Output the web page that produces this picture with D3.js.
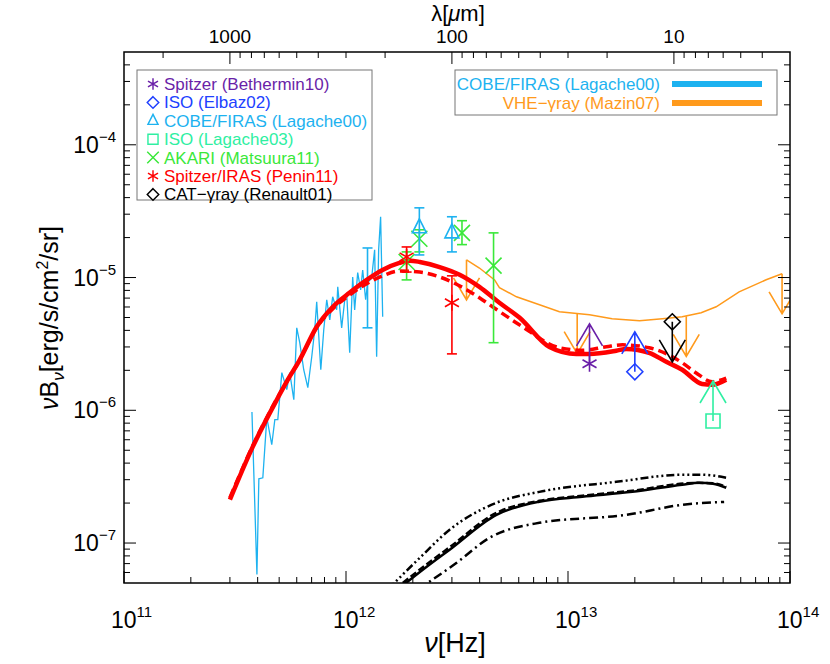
<!DOCTYPE html>
<html>
<head>
<meta charset="utf-8">
<script src="https://cdn.jsdelivr.net/npm/d3@7"></script>
<style>
body { margin: 0; background: #fff; }
text { font-family: "Liberation Sans", Arial, sans-serif; }
</style>
</head>
<body>
<svg width="830" height="664"></svg>
<script>
// ---- data (nu in Hz, nuB_nu in erg/s/cm2/sr) ----
var firasSpectrum = [
  [3.77e11, 9.7e-7], [3.97e11, 5.8e-8], [4.05e11, 3.05e-7], [4.22e11, 3.1e-7], [4.40e11, 8.8e-7],
  [4.63e11, 5.5e-7], [4.78e11, 8.5e-7], [4.93e11, 8.5e-7], [5.14e11, 1.92e-6], [5.41e11, 1.43e-6],
  [5.58e11, 1.92e-6], [5.82e11, 1.2e-6], [6.00e11, 4.18e-6], [6.19e11, 3.23e-6], [6.45e11, 2.02e-6],
  [6.73e11, 1.48e-6], [7.01e11, 2.53e-6], [7.23e11, 4.04e-6], [7.38e11, 6.57e-6], [7.70e11, 2.02e-6],
  [7.94e11, 4.04e-6], [8.19e11, 6.8e-6], [8.45e11, 4.8e-6], [8.71e11, 7.16e-6], [9.08e11, 5.71e-6],
  [9.18e11, 8.51e-6], [9.56e11, 4.18e-6], [9.87e11, 6.8e-6], [1.007e12, 7.67e-6], [1.039e12, 2.71e-6],
  [1.072e12, 1.01e-5], [1.094e12, 5.71e-6], [1.129e12, 1.09e-5], [1.164e12, 8.08e-6], [1.189e12, 1.14e-5],
  [1.226e12, 6.8e-6], [1.252e12, 9.13e-6], [1.305e12, 9.96e-6], [1.346e12, 1.62e-5], [1.374e12, 2.53e-6],
  [1.403e12, 1.62e-5], [1.432e12, 2.87e-5], [1.463e12, 5.06e-6]
];
var firasErr = [{nu: 1.25e12, lo: 4.18e-6, hi: 1.67e-5}];

var modelSolid = [
  [3.0e11, 2.12e-7], [3.8e11, 5.3e-7], [4.88e11, 1.2e-6], [5.47e11, 1.7e-6], [6.19e11, 2.4e-6],
  [7.38e11, 4.26e-6], [8.71e11, 6.0e-6], [1.04e12, 7.7e-6], [1.24e12, 9.6e-6], [1.46e12, 1.14e-5],
  [1.74e12, 1.29e-5], [1.94e12, 1.34e-5], [2.15e12, 1.31e-5], [2.64e12, 1.2e-5], [3.25e12, 1.05e-5],
  [3.99e12, 8.5e-6], [4.91e12, 6.45e-6], [6.04e12, 5.0e-6], [8.25e12, 3.0e-6], [1.09e13, 2.66e-6],
  [1.25e13, 2.66e-6], [1.65e13, 2.81e-6], [1.83e13, 2.9e-6], [2.32e13, 2.71e-6], [2.77e13, 2.32e-6],
  [3.27e13, 2.02e-6], [4.02e13, 1.58e-6], [4.46e13, 1.56e-6], [5.16e13, 1.7e-6]
];
var modelDashed = [
  [3.0e11, 2.2e-7], [3.8e11, 5.4e-7], [4.88e11, 1.22e-6], [6.19e11, 2.4e-6], [7.38e11, 4.2e-6],
  [8.71e11, 5.8e-6], [1.04e12, 7.4e-6], [1.24e12, 9.0e-6], [1.46e12, 1.03e-5], [1.74e12, 1.12e-5],
  [2.15e12, 1.10e-5], [2.64e12, 1.01e-5], [3.49e12, 8.1e-6], [3.99e12, 7.04e-6], [4.57e12, 6.03e-6],
  [6.04e12, 4.41e-6], [9.15e12, 2.96e-6], [1.16e13, 2.83e-6], [1.49e13, 3.01e-6], [1.76e13, 3.11e-6],
  [2.32e13, 2.96e-6], [3.27e13, 2.28e-6], [3.78e13, 1.91e-6], [4.46e13, 1.64e-6], [5.16e13, 1.75e-6]
];

var blackSolid = [
  [1.72e12, 4.5e-8], [2.31e12, 6.62e-8], [2.93e12, 8.9e-8], [4.76e12, 1.63e-7], [7.43e12, 2.05e-7],
  [1.16e13, 2.23e-7], [1.95e13, 2.43e-7], [3.27e13, 2.75e-7], [3.9e13, 2.84e-7], [4.5e13, 2.8e-7], [5.16e13, 2.61e-7]
];
var blackDashed = [
  [1.66e12, 4.5e-8], [2.28e12, 6.8e-8], [2.93e12, 9.3e-8], [4.76e12, 1.69e-7], [7.43e12, 2.08e-7],
  [1.16e13, 2.27e-7], [1.95e13, 2.48e-7], [3.78e13, 2.84e-7], [4.5e13, 2.82e-7], [5.16e13, 2.65e-7]
];
var blackLow = [
  [2.12e12, 4.5e-8], [3.15e12, 7.1e-8], [4.43e12, 1.095e-7], [7.43e12, 1.42e-7], [1.83e13, 1.63e-7],
  [3.27e13, 1.94e-7], [5.05e13, 2.04e-7]
];
var blackHigh = [
  [1.55e12, 4.5e-8], [2.15e12, 7.74e-8], [2.93e12, 1.26e-7], [4.76e12, 2.01e-7], [7.43e12, 2.43e-7],
  [1.65e13, 2.89e-7], [3.27e13, 3.27e-7], [4.02e13, 3.27e-7], [5.16e13, 3.1e-7]
];

var mazin07 = [
  [3.49e12, 1.36e-5], [3.99e12, 1.18e-5], [4.67e12, 9.6e-6], [4.91e12, 8.4e-6], [5.86e12, 7.16e-6],
  [7.44e12, 6.23e-6], [9.15e12, 5.52e-6], [1.25e13, 5.24e-6], [1.58e13, 4.89e-6], [2.1e13, 4.72e-6],
  [2.66e13, 4.89e-6], [3.27e13, 5.06e-6], [3.98e13, 5.43e-6], [4.65e13, 6.02e-6], [5.9e13, 7.81e-6],
  [7.81e13, 9.62e-6], [9.21e13, 1.067e-5]
];
var mazin07Limits = [[3.49e12, 1.36e-5], [1.1e13, 5.35e-6], [3.41e13, 5.1e-6], [9.21e13, 1.067e-5]];

var lagache00 = [
  {nu: 2.14e12, v: 2.37e-5, lo: 1.48e-5, hi: 3.35e-5},
  {nu: 3.0e12, v: 2.17e-5, lo: 1.56e-5, hi: 2.87e-5}
];
var matsuura11 = [
  {nu: 1.875e12, v: 1.31e-5, lo: 9.6e-6, hi: 1.56e-5},
  {nu: 2.14e12, v: 1.96e-5, lo: 1.56e-5, hi: 2.29e-5},
  {nu: 3.33e12, v: 2.17e-5, lo: 1.77e-5, hi: 2.68e-5},
  {nu: 4.62e12, v: 1.23e-5, lo: 3.23e-6, hi: 2.17e-5}
];
var penin11 = [
  {nu: 1.875e12, v: 1.43e-5, lo: 1.1e-5, hi: 1.7e-5},
  {nu: 3.0e12, v: 6.45e-6, lo: 2.66e-6, hi: 1.03e-5}
];
var bethermin10 = [{nu: 1.25e13, v: 2.24e-6}];   // lower limits
var elbaz02 = [{nu: 2.0e13, v: 1.95e-6}];
var lagache03 = [{nu: 4.5e13, v: 8.3e-7}];
var renault01 = [{nu: 2.95e13, v: 4.64e-6}];     // upper limit

var xMajor = [1e11, 1e12, 1e13, 1e14];
var yMajor = [1e-7, 1e-6, 1e-5, 1e-4];
var lambdaMajor = [1000, 100, 10];

var purple = "#6a1fa8", blue = "#2040ff", cyan = "#1db2f0", aqua = "#2fefa2",
    green = "#3ae83a", red = "#ff0000", orange = "#ff9a1c";

var legendLeft = [
  {label: "Spitzer (Bethermin10)", color: purple, sym: "asterisk"},
  {label: "ISO (Elbaz02)", color: blue, sym: "diamond"},
  {label: "COBE/FIRAS (Lagache00)", color: cyan, sym: "triangle"},
  {label: "ISO (Lagache03)", color: aqua, sym: "square"},
  {label: "AKARI (Matsuura11)", color: green, sym: "cross"},
  {label: "Spitzer/IRAS (Penin11)", color: red, sym: "asterisk"},
  {label: "CAT\u2212\u03b3ray (Renault01)", color: "#000", sym: "diamond"}
];
var legendRight = [
  {label: "COBE/FIRAS (Lagache00)", color: cyan},
  {label: "VHE\u2212\u03b3ray (Mazin07)", color: orange}
];

// ---- setup ----
var svg = d3.select("svg");
var pLeft = 124, pRight = 790, pTop = 52, pBottom = 583;
var x = d3.scaleLog().domain([1e11, 1e14]).range([pLeft, pRight]);
var y = d3.scaleLog().domain([5e-8, 5e-4]).range([pBottom, pTop]);
var cLight = 3e14; // micron * Hz

var symbols = {
  asterisk: "M0,-8L0,8M-7,-4L7,4M-7,4L7,-4",
  diamond: "M0,-8L8,0L0,8L-8,0Z",
  triangle: "M0,-9L7,5L-7,5Z",
  square: "M-7,-7L7,-7L7,7L-7,7Z",
  cross: "M-8,-8L8,8M-8,8L8,-8"
};

svg.append("clipPath").attr("id", "clip").append("rect")
  .attr("x", pLeft).attr("y", pTop).attr("width", pRight - pLeft).attr("height", pBottom - pTop);

var plot = svg.append("g").attr("clip-path", "url(#clip)");

var line = d3.line().x(function(d) { return x(d[0]); }).y(function(d) { return y(d[1]); });
var smooth = d3.line().curve(d3.curveMonotoneX).x(function(d) { return x(d[0]); }).y(function(d) { return y(d[1]); });

// black model curves
plot.append("path").attr("d", smooth(blackHigh)).attr("fill", "none").attr("stroke", "#000")
  .attr("stroke-width", 2.5).attr("stroke-dasharray", "8,3,2,3,2,3,2,3");
plot.append("path").attr("d", smooth(blackLow)).attr("fill", "none").attr("stroke", "#000")
  .attr("stroke-width", 2.5).attr("stroke-dasharray", "9,4,2,4");
plot.append("path").attr("d", smooth(blackDashed)).attr("fill", "none").attr("stroke", "#000")
  .attr("stroke-width", 2.5).attr("stroke-dasharray", "7,3");
plot.append("path").attr("d", smooth(blackSolid)).attr("fill", "none").attr("stroke", "#000")
  .attr("stroke-width", 2.5);

// FIRAS spectrum
plot.append("path").attr("d", line(firasSpectrum)).attr("fill", "none").attr("stroke", cyan).attr("stroke-width", 1.3);
drawErrors(plot, firasErr, cyan);

// Mazin07 upper limit curve
plot.append("path").attr("d", line(mazin07)).attr("fill", "none").attr("stroke", orange).attr("stroke-width", 1.5);
mazin07Limits.forEach(function(d) { drawArrow(plot, x(d[0]), y(d[1]), 1, orange); });

// red model curves
plot.append("path").attr("d", smooth(modelDashed)).attr("fill", "none").attr("stroke", red)
  .attr("stroke-width", 3.5).attr("stroke-dasharray", "9,5");
plot.append("path").attr("d", smooth(modelSolid)).attr("fill", "none").attr("stroke", red)
  .attr("stroke-width", 4.5).attr("stroke-linejoin", "round");

// data points
drawErrors(plot, matsuura11, green);
drawMarkers(plot, matsuura11, green, "cross");
drawErrors(plot, lagache00, cyan);
drawMarkers(plot, lagache00, cyan, "triangle");
drawErrors(plot, penin11, red);
drawMarkers(plot, penin11, red, "asterisk");

bethermin10.forEach(function(d) { drawArrow(plot, x(d.nu), y(d.v), -1, purple); });
drawMarkers(plot, bethermin10, purple, "asterisk");
elbaz02.forEach(function(d) { drawArrow(plot, x(d.nu), y(d.v), -1, blue); });
drawMarkers(plot, elbaz02, blue, "diamond");
lagache03.forEach(function(d) { drawArrow(plot, x(d.nu), y(d.v), -1, aqua); });
drawMarkers(plot, lagache03, aqua, "square");
renault01.forEach(function(d) { drawArrow(plot, x(d.nu), y(d.v), 1, "#000"); });
drawMarkers(plot, renault01, "#000", "diamond");

// ---- axes ----
var axes = svg.append("g").attr("stroke", "#000");
axes.append("rect").attr("x", pLeft).attr("y", pTop).attr("width", pRight - pLeft).attr("height", pBottom - pTop)
  .attr("fill", "none").attr("stroke-width", 1.5);

var xTicks = [];
for (var e = 11; e < 14; e++) for (var m = 2; m <= 9; m++) xTicks.push({v: m * Math.pow(10, e), major: false});
xMajor.forEach(function(v) { xTicks.push({v: v, major: true}); });
axes.selectAll("line.xt").data(xTicks).enter().append("line")
  .attr("x1", function(d) { return x(d.v); }).attr("x2", function(d) { return x(d.v); })
  .attr("y1", pBottom).attr("y2", function(d) { return pBottom - (d.major ? 12 : 6); });

var lTicks = [];
[1, 10, 100, 1000].forEach(function(dec) {
  for (var m = 1; m <= 9; m++) {
    var lam = m * dec;
    if (lam > 3 && lam < 3000) lTicks.push({v: cLight / lam, major: m === 1});
  }
});
axes.selectAll("line.lt").data(lTicks).enter().append("line")
  .attr("x1", function(d) { return x(d.v); }).attr("x2", function(d) { return x(d.v); })
  .attr("y1", pTop).attr("y2", function(d) { return pTop + (d.major ? 12 : 6); });

var yTicks = [];
for (var e2 = -8; e2 < -3; e2++) for (var m2 = 1; m2 <= 9; m2++) {
  var v = m2 * Math.pow(10, e2);
  if (v > 5e-8 && v < 5e-4) yTicks.push({v: v, major: m2 === 1});
}
axes.selectAll("line.yl").data(yTicks).enter().append("line")
  .attr("x1", pLeft).attr("x2", function(d) { return pLeft + (d.major ? 12 : 6); })
  .attr("y1", function(d) { return y(d.v); }).attr("y2", function(d) { return y(d.v); });
axes.selectAll("line.yr").data(yTicks).enter().append("line")
  .attr("x1", pRight).attr("x2", function(d) { return pRight - (d.major ? 12 : 6); })
  .attr("y1", function(d) { return y(d.v); }).attr("y2", function(d) { return y(d.v); });

// tick labels
var xl = svg.selectAll("text.xl").data(xMajor).enter().append("text")
  .attr("x", function(d) { return x(d) - 13; }).attr("y", 628)
  .attr("font-size", 23);
xl.append("tspan").text("10");
xl.append("tspan").attr("dy", -11).attr("font-size", 15).text(function(d) { return Math.round(Math.log10(d)); });

var yl = svg.selectAll("text.yl").data(yMajor).enter().append("text")
  .attr("x", 116).attr("y", function(d) { return y(d) + 8; })
  .attr("text-anchor", "end").attr("font-size", 23);
yl.append("tspan").text("10");
yl.append("tspan").attr("dy", -11).attr("font-size", 15)
  .text(function(d) { return "\u2212" + Math.round(-Math.log10(d)); });

svg.selectAll("text.tl").data(lambdaMajor).enter().append("text")
  .attr("x", function(d) { return x(cLight / d); }).attr("y", 43)
  .attr("text-anchor", "middle").attr("font-size", 19)
  .text(function(d) { return d; });

// axis titles
var xt = svg.append("text").attr("x", 455).attr("y", 652).attr("text-anchor", "middle").attr("font-size", 27);
xt.append("tspan").attr("font-style", "italic").text("\u03bd");
xt.append("tspan").text("[Hz]");

var tt = svg.append("text").attr("x", 458).attr("y", 21).attr("text-anchor", "middle").attr("font-size", 22);
tt.append("tspan").text("\u03bb[");
tt.append("tspan").attr("font-style", "italic").text("\u03bc");
tt.append("tspan").text("m]");

var yt = svg.append("text").attr("transform", "translate(58,318) rotate(-90)")
  .attr("text-anchor", "middle").attr("font-size", 25);
yt.append("tspan").attr("font-style", "italic").text("\u03bd");
yt.append("tspan").text("B");
yt.append("tspan").attr("font-style", "italic").attr("font-size", 17).attr("dy", 6).text("\u03bd");
yt.append("tspan").attr("dy", -6).text("[erg/s/cm");
yt.append("tspan").attr("font-size", 16).attr("dy", -10).text("2");
yt.append("tspan").attr("dy", 10).text("/sr]");

// ---- legends ----
var lg = svg.append("g");
lg.append("rect").attr("x", 137).attr("y", 70).attr("width", 235).attr("height", 130)
  .attr("fill", "#fff").attr("stroke", "#777").attr("stroke-width", 1);
var rows = lg.selectAll("g.row").data(legendLeft).enter().append("g")
  .attr("transform", function(d, i) { return "translate(0," + (84 + i * 18.4) + ")"; });
rows.append("path").attr("d", function(d) { return symbols[d.sym]; })
  .attr("transform", "translate(153,0) scale(0.72)")
  .attr("fill", "none").attr("stroke", function(d) { return d.color; }).attr("stroke-width", 2);
rows.append("text").attr("x", 164).attr("y", 6).attr("font-size", 17)
  .attr("fill", function(d) { return d.color; }).text(function(d) { return d.label; });

var rg = svg.append("g");
rg.append("rect").attr("x", 455).attr("y", 70).attr("width", 322).attr("height", 45)
  .attr("fill", "#fff").attr("stroke", "#777").attr("stroke-width", 1);
var rrows = rg.selectAll("g.row").data(legendRight).enter().append("g")
  .attr("transform", function(d, i) { return "translate(0," + (84 + i * 19) + ")"; });
rrows.append("text").attr("x", 660).attr("y", 6).attr("text-anchor", "end").attr("font-size", 17)
  .attr("fill", function(d) { return d.color; }).text(function(d) { return d.label; });
rrows.append("line").attr("x1", 672).attr("x2", 762).attr("y1", 0).attr("y2", 0)
  .attr("stroke", function(d) { return d.color; }).attr("stroke-width", 6);

// ---- helpers ----
function drawMarkers(g, data, color, sym) {
  g.selectAll(null).data(data).enter().append("path")
    .attr("d", symbols[sym])
    .attr("transform", function(d) { return "translate(" + x(d.nu) + "," + y(d.v) + ")"; })
    .attr("fill", "none").attr("stroke", color).attr("stroke-width", 1.6);
}

function drawErrors(g, data, color) {
  var eg = g.selectAll(null).data(data).enter().append("g")
    .attr("stroke", color).attr("stroke-width", 1.6);
  eg.append("line").attr("x1", function(d) { return x(d.nu); }).attr("x2", function(d) { return x(d.nu); })
    .attr("y1", function(d) { return y(d.hi); }).attr("y2", function(d) { return y(d.lo); });
  eg.append("line").attr("x1", function(d) { return x(d.nu) - 5; }).attr("x2", function(d) { return x(d.nu) + 5; })
    .attr("y1", function(d) { return y(d.hi); }).attr("y2", function(d) { return y(d.hi); });
  eg.append("line").attr("x1", function(d) { return x(d.nu) - 5; }).attr("x2", function(d) { return x(d.nu) + 5; })
    .attr("y1", function(d) { return y(d.lo); }).attr("y2", function(d) { return y(d.lo); });
}

// dir = -1 arrow up (lower limit), 1 arrow down (upper limit)
function drawArrow(g, px, py, dir, color) {
  var tip = py + dir * 40;
  g.append("path")
    .attr("d", "M" + px + "," + py + "L" + px + "," + tip +
      "M" + (px - 13) + "," + (tip - dir * 22) + "L" + px + "," + tip + "L" + (px + 13) + "," + (tip - dir * 22))
    .attr("fill", "none").attr("stroke", color).attr("stroke-width", 1.6);
}
</script>
</body>
</html>
